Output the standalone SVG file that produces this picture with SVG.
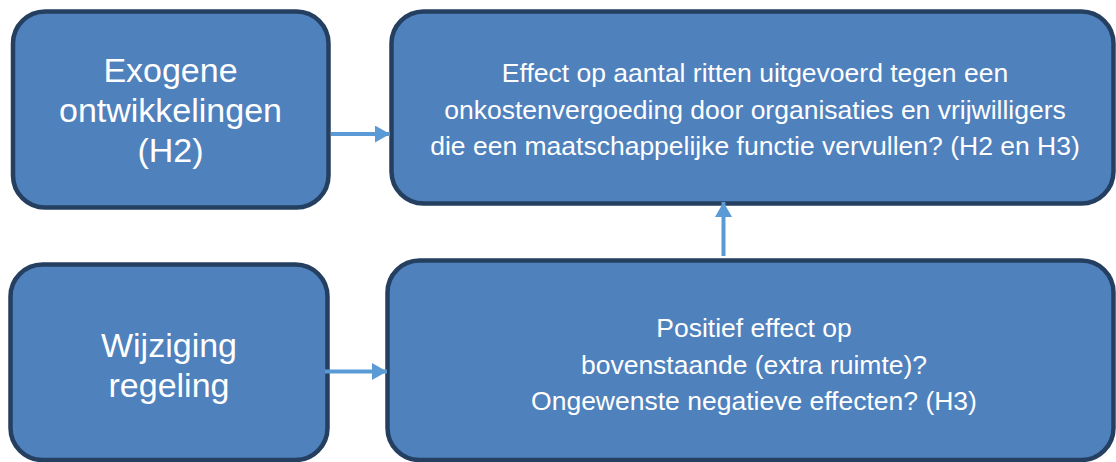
<svg xmlns="http://www.w3.org/2000/svg" width="1116" height="462" viewBox="0 0 1116 462">
  <style>
    .box { fill: #4F81BD; stroke: #243F60; stroke-width: 4.5; }
    .big { font-family: "Liberation Sans", Arial, sans-serif; font-size: 34px; fill: #FFFFFF; text-anchor: middle; }
    .small { font-family: "Liberation Sans", Arial, sans-serif; font-size: 26.5px; fill: #FFFFFF; text-anchor: middle; }
    .conn { stroke: #5B9BD5; stroke-width: 4; fill: none; }
  </style>
  <defs>
    <marker id="arrow" markerUnits="userSpaceOnUse" markerWidth="16" markerHeight="17" refX="15" refY="8.5" orient="auto">
      <polygon points="0,0 15,8.5 0,17" fill="#5B9BD5"/>
    </marker>
  </defs>
  <rect width="1116" height="462" fill="#FFFFFF"/>

  <g id="node-exogeen">
    <rect class="box" x="13" y="11.5" width="315.5" height="196" rx="32" ry="32"/>
    <text class="big" x="170.5" y="82">Exogene</text>
    <text class="big" x="170.5" y="122">ontwikkelingen</text>
    <text class="big" x="170.5" y="162">(H2)</text>
  </g>

  <g id="node-effect">
    <rect class="box" x="391.5" y="11.5" width="722" height="192" rx="32" ry="32"/>
    <text class="small" x="755" y="82">Effect op aantal ritten uitgevoerd tegen een</text>
    <text class="small" x="755" y="118.5">onkostenvergoeding door organisaties en vrijwilligers</text>
    <text class="small" x="755" y="155">die een maatschappelijke functie vervullen? (H2 en H3)</text>
  </g>

  <g id="node-wijziging">
    <rect class="box" x="10.5" y="264.5" width="317" height="195.5" rx="32" ry="32"/>
    <text class="big" x="169" y="357">Wijziging</text>
    <text class="big" x="169" y="397">regeling</text>
  </g>

  <g id="node-positief">
    <rect class="box" x="387.5" y="260.5" width="726" height="199.5" rx="32" ry="32"/>
    <text class="small" x="754" y="337">Positief effect op</text>
    <text class="small" x="754" y="373.5">bovenstaande (extra ruimte)?</text>
    <text class="small" x="754" y="410">Ongewenste negatieve effecten? (H3)</text>
  </g>

  <g id="connectors">
    <line class="conn" x1="331" y1="134" x2="390" y2="134" marker-end="url(#arrow)"/>
    <line class="conn" x1="723.5" y1="256" x2="723.5" y2="202" marker-end="url(#arrow)"/>
    <line class="conn" x1="325" y1="371.5" x2="387" y2="371.5" marker-end="url(#arrow)"/>
  </g>
</svg>
